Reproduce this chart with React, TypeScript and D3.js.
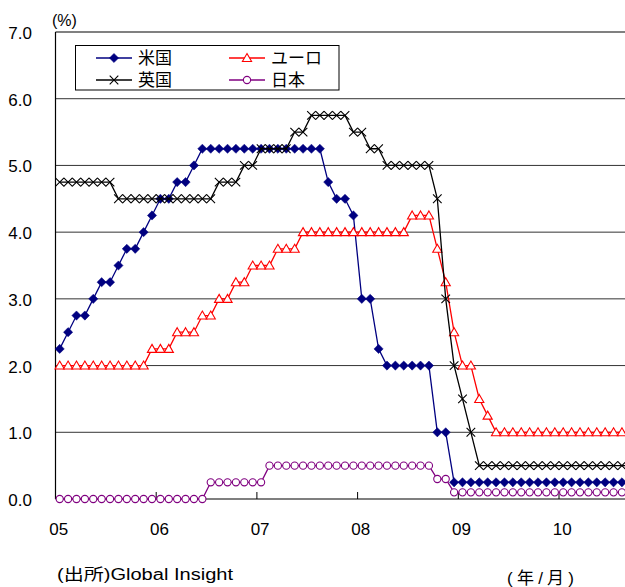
import React from "react";
import * as d3 from "d3";

// Monthly policy rates, Jan 2005 – Sep 2010 (month-end, %)
const months: string[] = [];
const yearLabels = ["05", "06", "07", "08", "09", "10"];
for (const y of yearLabels) for (let m = 1; m <= 12; m++) months.push(`${y}/${m}`);

const usRate = [
  2.25, 2.5, 2.75, 2.75, 3.0, 3.25, 3.25, 3.5, 3.75, 3.75, 4.0, 4.25,
  4.5, 4.5, 4.75, 4.75, 5.0, 5.25, 5.25, 5.25, 5.25, 5.25, 5.25, 5.25,
  5.25, 5.25, 5.25, 5.25, 5.25, 5.25, 5.25, 5.25, 4.75, 4.5, 4.5, 4.25,
  3.0, 3.0, 2.25, 2.0, 2.0, 2.0, 2.0, 2.0, 2.0, 1.0, 1.0, 0.25,
  0.25, 0.25, 0.25, 0.25, 0.25, 0.25, 0.25, 0.25, 0.25, 0.25, 0.25, 0.25,
  0.25, 0.25, 0.25, 0.25, 0.25, 0.25, 0.25, 0.25, 0.25,
];
const euroRate = [
  2.0, 2.0, 2.0, 2.0, 2.0, 2.0, 2.0, 2.0, 2.0, 2.0, 2.0, 2.25,
  2.25, 2.25, 2.5, 2.5, 2.5, 2.75, 2.75, 3.0, 3.0, 3.25, 3.25, 3.5,
  3.5, 3.5, 3.75, 3.75, 3.75, 4.0, 4.0, 4.0, 4.0, 4.0, 4.0, 4.0,
  4.0, 4.0, 4.0, 4.0, 4.0, 4.0, 4.25, 4.25, 4.25, 3.75, 3.25, 2.5,
  2.0, 2.0, 1.5, 1.25, 1.0, 1.0, 1.0, 1.0, 1.0, 1.0, 1.0, 1.0,
  1.0, 1.0, 1.0, 1.0, 1.0, 1.0, 1.0, 1.0, 1.0,
];
const ukRate = [
  4.75, 4.75, 4.75, 4.75, 4.75, 4.75, 4.75, 4.5, 4.5, 4.5, 4.5, 4.5,
  4.5, 4.5, 4.5, 4.5, 4.5, 4.5, 4.5, 4.75, 4.75, 4.75, 5.0, 5.0,
  5.25, 5.25, 5.25, 5.25, 5.5, 5.5, 5.75, 5.75, 5.75, 5.75, 5.75, 5.5,
  5.5, 5.25, 5.25, 5.0, 5.0, 5.0, 5.0, 5.0, 5.0, 4.5, 3.0, 2.0,
  1.5, 1.0, 0.5, 0.5, 0.5, 0.5, 0.5, 0.5, 0.5, 0.5, 0.5, 0.5,
  0.5, 0.5, 0.5, 0.5, 0.5, 0.5, 0.5, 0.5, 0.5,
];
const japanRate = [
  0, 0, 0, 0, 0, 0, 0, 0, 0, 0, 0, 0,
  0, 0, 0, 0, 0, 0, 0.25, 0.25, 0.25, 0.25, 0.25, 0.25,
  0.25, 0.5, 0.5, 0.5, 0.5, 0.5, 0.5, 0.5, 0.5, 0.5, 0.5, 0.5,
  0.5, 0.5, 0.5, 0.5, 0.5, 0.5, 0.5, 0.5, 0.5, 0.3, 0.3, 0.1,
  0.1, 0.1, 0.1, 0.1, 0.1, 0.1, 0.1, 0.1, 0.1, 0.1, 0.1, 0.1,
  0.1, 0.1, 0.1, 0.1, 0.1, 0.1, 0.1, 0.1, 0.1,
];
const yTicks = [0, 1, 2, 3, 4, 5, 6, 7];

type Marker = "diamond" | "triangle" | "cross" | "circle";
const series: { name: string; values: number[]; color: string; marker: Marker }[] = [
  { name: "米国", values: usRate, color: "#000080", marker: "diamond" },
  { name: "ユーロ", values: euroRate, color: "#FF0000", marker: "triangle" },
  { name: "英国", values: ukRate, color: "#000000", marker: "cross" },
  { name: "日本", values: japanRate, color: "#800080", marker: "circle" },
];

const W = 625;
const H = 587;
const left = 55.5;
const top = 32;
const bottom = 499;

const x = d3.scaleLinear().domain([-0.5, 59.5]).range([left, 559]);
const y = d3.scaleLinear().domain([0, 7]).range([bottom, top]);

const FONT = "'Liberation Sans', Arial, 'Noto Sans CJK JP', sans-serif";

function MarkerShape({ type, cx, cy, color }: { type: Marker; cx: number; cy: number; color: string }) {
  if (type === "diamond") {
    const r = 4.6;
    return <path d={`M${cx},${cy - r}L${cx + r},${cy}L${cx},${cy + r}L${cx - r},${cy}Z`} fill={color} stroke={color} strokeWidth={0.5} />;
  }
  if (type === "triangle") {
    return <path d={`M${cx},${cy - 4.5}L${cx + 4.6},${cy + 3.5}L${cx - 4.6},${cy + 3.5}Z`} fill="#fff" stroke={color} strokeWidth={1.1} />;
  }
  if (type === "cross") {
    const r = 4.3;
    return <path d={`M${cx - r},${cy - r}L${cx + r},${cy + r}M${cx - r},${cy + r}L${cx + r},${cy - r}`} fill="none" stroke={color} strokeWidth={1.1} />;
  }
  return <circle cx={cx} cy={cy} r={3.6} fill="#fff" stroke={color} strokeWidth={1.1} />;
}

export default function App() {
  const line = d3
    .line<number>()
    .x((_, i) => x(i))
    .y((d) => y(d));

  const yearTicks = [11.5, 23.5, 35.5, 47.5, 59.5];

  const legendItems = [
    { s: series[0], lx: 96, ly: 58 },
    { s: series[1], lx: 229, ly: 58 },
    { s: series[2], lx: 96, ly: 80 },
    { s: series[3], lx: 229, ly: 80 },
  ];

  return (
    <svg width={W} height={H} style={{ position: "absolute", left: 0, top: 0, background: "#fff" }}>
      <defs>
        <clipPath id="plotclip">
          <rect x={left - 6} y={0} width={W - left + 6} height={bottom + 8} />
        </clipPath>
      </defs>
      <rect x={0} y={0} width={W} height={H} fill="#fff" />
      {/* gridlines */}
      {yTicks.map((t) =>
        t === 0 ? null : (
          <line
            key={t}
            x1={left}
            x2={W}
            y1={y(t)}
            y2={y(t)}
            stroke={t === 7 ? "#808080" : "#333"}
            strokeWidth={t === 7 ? 2 : 1}
          />
        )
      )}
      {/* y axis */}
      <line x1={left} x2={left} y1={top} y2={bottom} stroke="#000" strokeWidth={1.2} />
      {yTicks.map((t) => (
        <text key={t} x={32} y={y(t) + 7} textAnchor="end" fontFamily={FONT} fontSize={17} fill="#000">
          {t.toFixed(1)}
        </text>
      ))}
      <text x={52} y={26} fontFamily={FONT} fontSize={16} fill="#000">(%)</text>
      {/* x axis */}
      <line x1={left} x2={W} y1={bottom} y2={bottom} stroke="#000" strokeWidth={1.2} />
      {yearTicks.map((t) => (
        <line key={t} x1={x(t)} x2={x(t)} y1={bottom} y2={bottom - 7} stroke="#000" strokeWidth={1} />
      ))}
      {yearLabels.map((lab, k) => (
        <text key={lab} x={x(k * 12) - 1} y={535} textAnchor="middle" fontFamily={FONT} fontSize={17} fill="#000">
          {lab}
        </text>
      ))}
      {/* series */}
      <g clipPath="url(#plotclip)">
        {series.map((s) => (
          <g key={s.name}>
            <path d={line(s.values) || ""} fill="none" stroke={s.color} strokeWidth={1.3} />
            {s.values.map((v, i) => (
              <MarkerShape key={i} type={s.marker} cx={x(i)} cy={y(v)} color={s.color} />
            ))}
          </g>
        ))}
      </g>
      {/* legend */}
      <rect x={75.5} y={45.5} width={263.5} height={44.5} fill="#fff" stroke="#000" strokeWidth={1} />
      {legendItems.map(({ s, lx, ly }) => (
        <g key={s.name}>
          <line x1={lx} x2={lx + 36} y1={ly} y2={ly} stroke={s.color} strokeWidth={1.3} />
          <MarkerShape type={s.marker} cx={lx + 18} cy={ly} color={s.color} />
          <text x={lx + 42} y={ly + 6} fontFamily={FONT} fontSize={17} fill="#000">
            {s.name}
          </text>
        </g>
      ))}
      {/* notes */}
      <text x={57} y={580} fontFamily={FONT} fontSize={16} fill="#000" textLength={176} lengthAdjust="spacingAndGlyphs">
        (出所)Global Insight
      </text>
      <text x={507} y={584} fontFamily={FONT} fontSize={17} fill="#000" textLength={67} lengthAdjust="spacing">
        (年/月)
      </text>
    </svg>
  );
}
